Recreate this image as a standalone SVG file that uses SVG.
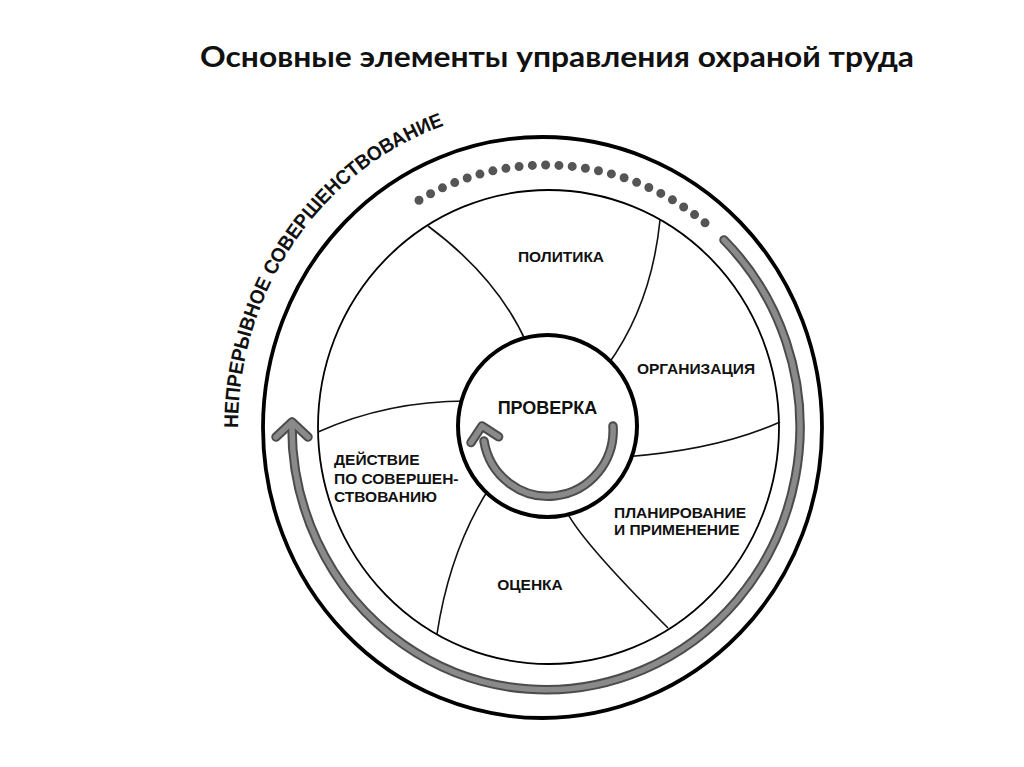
<svg xmlns="http://www.w3.org/2000/svg" width="1024" height="767" viewBox="0 0 1024 767">
  <defs>
    <style>
      .title { font-family: Lato, "Liberation Sans", Arial, sans-serif; font-weight: bold; font-size: 28px; fill: #111; }
      .lbl { font-family: "Liberation Sans", Arial, sans-serif; font-weight: bold; font-size: 15.5px; fill: #111; }
      .big { font-size: 18px; }
      .arc-txt { font-family: "Liberation Sans", Arial, sans-serif; font-weight: bold; font-size: 20px; fill: #111; }
      .ring { fill: none; stroke: #000; }
      .spoke { fill: none; stroke: #111; stroke-width: 1.6; }
      .g-out { fill: none; stroke: #4c4c4c; stroke-width: 9.5; stroke-linecap: round; stroke-linejoin: round; }
      .g-in { fill: none; stroke: #8a8a8a; stroke-width: 5.5; stroke-linecap: round; stroke-linejoin: round; }
      .dots { fill: none; stroke: #555; stroke-width: 9; stroke-linecap: round; stroke-dasharray: 0 13.3; }
    </style>
    <path id="arcPath" d="M 238 428 A 306 319 0 0 1 490.9 112.8"/>
  </defs>

  <rect width="1024" height="767" fill="#fff"/>

  <g id="title">
    <text class="title" x="557" y="67" text-anchor="middle" textLength="714" lengthAdjust="spacingAndGlyphs">Основные элементы управления охраной труда</text>
  </g>

  <g id="outer-ring">
    <ellipse class="ring" cx="542.5" cy="427.5" rx="279.5" ry="290.5" stroke-width="3.8"/>
    <text class="arc-txt"><textPath href="#arcPath" textLength="390" lengthAdjust="spacingAndGlyphs">НЕПРЕРЫВНОЕ СОВЕРШЕНСТВОВАНИЕ</textPath></text>
  </g>

  <g id="middle-ring">
    <ellipse class="ring" cx="548.5" cy="427" rx="230.5" ry="237" stroke-width="1.8"/>
  </g>

  <g id="spokes">
    <path class="spoke" d="M 428 226 Q 498 278 527 344"/>
    <path class="spoke" d="M 660 220 Q 651.5 305 607 366"/>
    <path class="spoke" d="M 780 422 Q 718 450 624 457"/>
    <path class="spoke" d="M 668 628 Q 576 536 565 508"/>
    <path class="spoke" d="M 437 634 Q 450 549 490 487"/>
    <path class="spoke" d="M 318 432 Q 387 401 467 401"/>
  </g>

  <g id="connectors">
    <path class="dots" d="M 419 200.2 A 254 262.5 0 0 1 712.6 229.4"/>
    <g id="outer-arrow">
      <path class="g-out" d="M 724 240 A 254 262.5 0 1 1 292 424"/>
      <polyline class="g-out" points="276,437 292,422 308,437"/>
      <path class="g-in" d="M 724 240 A 254 262.5 0 1 1 292 424"/>
      <polyline class="g-in" points="276,437 292,422 308,437"/>
    </g>
  </g>

  <g id="node-proverka">
    <ellipse cx="547.5" cy="426" rx="89.5" ry="91" fill="#fff" stroke="#000" stroke-width="4"/>
    <text class="lbl big" x="547.5" y="414" text-anchor="middle">ПРОВЕРКА</text>
    <g id="inner-arrow">
      <path class="g-out" d="M 613 426 A 65 66 0 0 1 484 441" stroke-width="10.5"/>
      <polyline class="g-out" points="471,442.6 482,426 498.6,436.8" stroke-width="10.5"/>
      <path class="g-in" d="M 613 426 A 65 66 0 0 1 484 441" stroke-width="6.5"/>
      <polyline class="g-in" points="471,442.6 482,426 498.6,436.8" stroke-width="6.5"/>
    </g>
  </g>

  <g id="node-politika">
    <text class="lbl" x="561" y="262" text-anchor="middle">ПОЛИТИКА</text>
  </g>
  <g id="node-organizaciya">
    <text class="lbl" x="696" y="374" text-anchor="middle">ОРГАНИЗАЦИЯ</text>
  </g>
  <g id="node-planirovanie">
    <text class="lbl" x="614" y="518">ПЛАНИРОВАНИЕ</text>
    <text class="lbl" x="614" y="535">И ПРИМЕНЕНИЕ</text>
  </g>
  <g id="node-ocenka">
    <text class="lbl" x="530" y="590" text-anchor="middle">ОЦЕНКА</text>
  </g>
  <g id="node-deystvie">
    <text class="lbl" x="334" y="465">ДЕЙСТВИЕ</text>
    <text class="lbl" x="334" y="484">ПО СОВЕРШЕН-</text>
    <text class="lbl" x="334" y="502">СТВОВАНИЮ</text>
  </g>
</svg>
